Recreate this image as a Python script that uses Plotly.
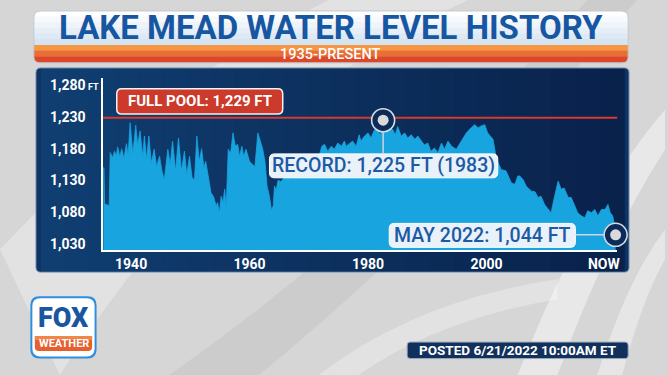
import plotly.graph_objects as go

# ---------------- data ----------------
years = [1935.30, 1935.42, 1935.52, 1936.30, 1936.47, 1936.90, 1937.20, 1937.50, 1937.72, 1938.10,
         1938.40, 1938.80, 1939.20, 1939.50, 1939.83, 1940.30, 1940.78, 1941.10, 1941.50, 1941.95,
         1942.25, 1942.60, 1943.00, 1943.40, 1943.90, 1944.30, 1944.80, 1945.20, 1945.60, 1946.20,
         1946.60, 1947.00, 1947.50, 1948.00, 1948.50, 1949.00, 1949.40, 1949.85, 1950.30, 1950.70,
         1951.10, 1951.50, 1951.90, 1952.30, 1952.60, 1953.00, 1953.50, 1953.90, 1954.35, 1954.60,
         1954.90, 1955.20, 1955.50, 1955.80, 1956.05, 1956.40, 1956.80, 1957.20, 1957.60, 1958.00,
         1958.30, 1958.70, 1959.00, 1959.40, 1960.00, 1960.50, 1960.90, 1961.40, 1961.80, 1962.20,
         1962.60, 1962.95, 1963.35, 1963.70, 1964.00, 1964.20, 1964.50, 1964.80, 1965.30, 1965.80,
         1966.50, 1967.20, 1968.00, 1968.70, 1969.50, 1970.20, 1970.80, 1971.50, 1972.20, 1972.65,
         1973.20, 1973.80, 1974.30, 1974.90, 1975.50, 1976.00, 1976.30, 1976.90, 1977.40, 1978.00,
         1978.50, 1978.80, 1979.40, 1980.00, 1980.50, 1981.10, 1981.70, 1982.10, 1982.55, 1983.00,
         1983.60, 1984.20, 1984.60, 1985.00, 1985.60, 1986.20, 1986.70, 1987.30, 1987.90, 1988.40,
         1989.00, 1989.50, 1990.10, 1990.60, 1991.20, 1991.80, 1992.40, 1992.90, 1993.50, 1994.10,
         1994.90, 1995.70, 1996.60, 1997.40, 1998.00, 1998.60, 1999.10, 1999.70, 2000.20, 2001.10,
         2001.70, 2002.50, 2003.30, 2004.20, 2004.80, 2005.30, 2005.60, 2006.20, 2006.70, 2007.60,
         2008.20, 2008.70, 2009.20, 2009.80, 2010.40, 2010.90, 2011.50, 2012.10, 2012.60, 2013.10,
         2013.80, 2014.30, 2014.90, 2015.40, 2016.00, 2016.60, 2017.10, 2017.70, 2018.30, 2018.80,
         2019.40, 2020.00, 2020.50, 2020.90, 2021.30, 2021.55, 2021.80]
levels = [1150, 1150, 1093, 1090, 1174, 1166, 1176, 1168, 1183, 1167,
          1180, 1165, 1188, 1170, 1221, 1172, 1217, 1185, 1208, 1168,
          1200, 1163, 1200, 1158, 1179, 1152, 1168, 1145, 1131, 1179,
          1155, 1192, 1145, 1197, 1145, 1176, 1139, 1168, 1134, 1131,
          1200, 1160, 1180, 1150, 1160, 1135, 1110, 1105, 1090, 1095,
          1079, 1105, 1095, 1116, 1087, 1179, 1173, 1205, 1184, 1187,
          1168, 1184, 1168, 1179, 1160, 1155, 1152, 1205, 1194, 1180,
          1160, 1121, 1105, 1083, 1090, 1121, 1115, 1130, 1128, 1134,
          1138, 1133, 1145, 1140, 1152, 1148, 1165, 1160, 1184, 1187,
          1176, 1184, 1179, 1189, 1184, 1192, 1184, 1189, 1192, 1184,
          1202, 1192, 1200, 1205, 1197, 1210, 1208, 1202, 1225, 1205,
          1213, 1210, 1202, 1215, 1200, 1205, 1197, 1202, 1195, 1200,
          1192, 1186, 1189, 1176, 1181, 1174, 1189, 1179, 1192, 1184,
          1179, 1192, 1205, 1213, 1218, 1213, 1216, 1218, 1205, 1195,
          1163, 1147, 1145, 1126, 1124, 1137, 1137, 1131, 1121, 1113,
          1112, 1103, 1105, 1092, 1084, 1079, 1105, 1129, 1116, 1118,
          1103, 1103, 1090, 1079, 1074, 1071, 1082, 1079, 1084, 1074,
          1084, 1084, 1092, 1079, 1074, 1063, 1044]

full_pool = 1229
record_year, record_level = 1982.55, 1225
latest_year, latest_level = 2021.80, 1044

y_ticks = [1030, 1080, 1130, 1180, 1230, 1280]
x_ticks = [1940, 1960, 1980, 2000, 2019.8]
x_ticklabels = ["1940", "1960", "1980", "2000", "NOW"]

title_text = "LAKE MEAD WATER LEVEL HISTORY"
subtitle_text = "1935-PRESENT"
full_pool_text = "FULL POOL: 1,229 FT"
record_text = "RECORD: 1,225 FT (1983)"
latest_text = "MAY 2022: 1,044 FT"
posted_text = "POSTED 6/21/2022 10:00AM ET"

# ---------------- helpers ----------------
W, H = 668, 376


def X(p):
    return p / W


def Y(p):
    return 1 - p / H


def rpath(x0, y0, x1, y1, tl=0, tr=0, br=0, bl=0):
    return (f"M {X(x0 + tl)},{Y(y0)} L {X(x1 - tr)},{Y(y0)} Q {X(x1)},{Y(y0)} {X(x1)},{Y(y0 + tr)} "
            f"L {X(x1)},{Y(y1 - br)} Q {X(x1)},{Y(y1)} {X(x1 - br)},{Y(y1)} "
            f"L {X(x0 + bl)},{Y(y1)} Q {X(x0)},{Y(y1)} {X(x0)},{Y(y1 - bl)} "
            f"L {X(x0)},{Y(y0 + tl)} Q {X(x0)},{Y(y0)} {X(x0 + tl)},{Y(y0)} Z")


def lerp(c1, c2, t):
    return "rgb(%d,%d,%d)" % tuple(round(a + (b - a) * t) for a, b in zip(c1, c2))


shapes = []


def add_path(path, fill=None, line=None, lw=0, layer="below", opacity=1):
    shapes.append(dict(type="path", path=path, xref="paper", yref="paper", layer=layer,
                       fillcolor=fill if fill else "rgba(0,0,0,0)", opacity=opacity,
                       line=dict(color=line if line else "rgba(0,0,0,0)", width=lw)))


def swoosh(pts, fill, opacity):
    p = f"M {X(pts[0][0])},{Y(pts[0][1])} "
    p += f"Q {X(pts[1][0])},{Y(pts[1][1])} {X(pts[2][0])},{Y(pts[2][1])} "
    p += f"L {X(pts[3][0])},{Y(pts[3][1])} "
    p += f"Q {X(pts[4][0])},{Y(pts[4][1])} {X(pts[5][0])},{Y(pts[5][1])} Z"
    add_path(p, fill=fill, opacity=opacity)


# ---------------- background swooshes ----------------
swoosh([(0, 250), (150, 90), (330, 0), (470, 0), (230, 110), (60, 376)], "#ffffff", 0.3)
swoosh([(170, 376), (380, 230), (590, 0), (640, 0), (440, 230), (260, 376)], "#a9a9a9", 0.22)
swoosh([(520, 376), (590, 200), (668, 110), (668, 150), (610, 240), (560, 376)], "#ffffff", 0.45)
swoosh([(600, 376), (630, 280), (668, 230), (668, 260), (645, 300), (625, 376)], "#ffffff", 0.4)
swoosh([(320, 376), (420, 300), (560, 280), (560, 300), (440, 320), (360, 376)], "#ffffff", 0.3)

# ---------------- title box ----------------
top_c, mid_c = (255, 255, 255), (213, 228, 241)
n = 6
y0, y1 = 11, 45
for i in range(n):
    a = y0 + (y1 - y0) * i / n
    b = y0 + (y1 - y0) * (i + 1) / n + 0.6
    r = 7 if i == 0 else 0
    add_path(rpath(34, a, 631, b, tl=r, tr=r), fill=lerp(top_c, mid_c, i / (n - 1)))
or1, or2 = (244, 150, 68), (220, 70, 42)
y0, y1 = 45, 63
n = 3
for i in range(n):
    a = y0 + (y1 - y0) * i / n
    b = y0 + (y1 - y0) * (i + 1) / n + (0.6 if i < n - 1 else 0)
    r = 6 if i == n - 1 else 0
    add_path(rpath(34, a, 631, b, br=r, bl=r), fill=lerp(or1, or2, i / (n - 1)))
add_path(rpath(34, 11, 631, 63, 7, 7, 6, 6), line="#c3c9d1", lw=1)

# ---------------- chart panel ----------------
add_path(rpath(36, 68, 632, 273, 5, 5, 5, 5), fill="rgb(13,52,100)")
left_c, right_c = (16, 62, 113), (9, 34, 76)
n = 24
for i in range(n):
    a = 41 + (627 - 41) * i / n
    b = 41 + (627 - 41) * (i + 1) / n + 0.6
    add_path(rpath(a, 68.5, b, 272.5), fill=lerp(left_c, right_c, i / (n - 1)))
add_path(rpath(36, 68, 632, 273, 5, 5, 5, 5), line="#9fb1c7", lw=1)

# full pool line (below traces, above panel)
shapes.append(dict(type="line", xref="x domain", yref="y", x0=0, x1=1, y0=full_pool, y1=full_pool,
                   layer="below", line=dict(color="#d83a2b", width=2)))

# ---------------- label boxes ----------------
add_path(rpath(117.3, 89, 284, 114.3, 5, 5, 5, 5), fill="#cc3a2b", line="#f1f1f1", lw=1.5, layer="above")
add_path(rpath(270.7, 154.3, 500, 178.3, 5, 5, 5, 5), fill="#e9f1f9", line="#ffffff", lw=1, layer="above")
add_path(rpath(391, 224, 578, 248, 5, 5, 5, 5), fill="#e9f1f9", line="#ffffff", lw=1, layer="above")
# connectors
shapes.append(dict(type="line", xref="x", yref="paper", x0=record_year, x1=record_year,
                   y0=Y(132.5), y1=Y(154.3), layer="above", line=dict(color="#cdd5df", width=1.5)))
shapes.append(dict(type="line", xref="paper", yref="y", x0=X(578), x1=X(606.5),
                   y0=latest_level, y1=latest_level, layer="above", line=dict(color="#cdd5df", width=1.5)))

# posted box & logo
add_path(rpath(409, 343, 631, 359.5, 3, 3, 3, 3), fill="#12305c", line="#9aa9bd", lw=1)
add_path(rpath(30.5, 297, 97, 359.5, 9, 9, 9, 9), fill="#2f8fdf")
add_path(rpath(32.5, 299, 95, 357.5, 8, 8, 8, 8), fill="#ffffff")
add_path(rpath(35, 337, 92.5, 352, 0, 0, 4, 4), fill="#e6602f")
add_path(rpath(35, 337, 92.5, 341), fill="#f0864a")

# ---------------- figure ----------------
fig = go.Figure()
fig.add_trace(go.Scatter(x=years, y=levels, mode="lines", fill="tozeroy",
                         line=dict(color="#18a4df", width=0.8), fillcolor="#18a4df",
                         hoverinfo="skip", showlegend=False))
for yr, lv in [(record_year, record_level), (latest_year, latest_level)]:
    fig.add_trace(go.Scatter(x=[yr], y=[lv], mode="markers", showlegend=False, hoverinfo="skip",
                             cliponaxis=False,
                             marker=dict(size=23, color="#0c2b58", line=dict(color="#d5dbe2", width=1.6))))
    fig.add_trace(go.Scatter(x=[yr], y=[lv], mode="markers", showlegend=False, hoverinfo="skip",
                             cliponaxis=False,
                             marker=dict(size=11, color="#dadada", line=dict(width=0))))

ft_span = "<span style='font-size:9px'> FT</span>"
ghost_span = "<span style='font-size:9px;color:rgba(0,0,0,0)'> FT</span>"
y_ticktext = [f"{v:,}" + (ft_span if v == 1280 else ghost_span) for v in y_ticks]

font_b = dict(family="Roboto", weight="bold")

fig.update_layout(
    width=W, height=H, margin=dict(l=0, r=0, t=0, b=0),
    paper_bgcolor="#d6d6d6", plot_bgcolor="rgba(0,0,0,0)",
    showlegend=False, shapes=shapes,
    xaxis=dict(domain=[X(103.5), X(620)], range=[1935.26, 2022.07],
               tickvals=x_ticks, ticktext=x_ticklabels, showgrid=False, zeroline=False,
               showline=True, linecolor="white", linewidth=1.5, ticks="",
               tickfont=dict(size=14, color="white", **font_b), fixedrange=True),
    yaxis=dict(domain=[Y(251), Y(78)], range=[1019.5, 1292],
               tickvals=y_ticks, ticktext=y_ticktext, showgrid=False, zeroline=False,
               showline=True, linecolor="white", linewidth=1.5, ticks="",
               tickfont=dict(size=14, color="white", **font_b), fixedrange=True),
)

ann = [
    dict(text=title_text, x=X(332), y=Y(27.5), font=dict(size=33, color="#1756a2", **font_b)),
    dict(text=subtitle_text, x=X(332), y=Y(54.3), font=dict(size=14.5, color="white", family="Roboto", weight=500)),
    dict(text=full_pool_text, x=X(200.7), y=Y(101.7), font=dict(size=15, color="white", **font_b)),
    dict(text=record_text, x=X(385.3), y=Y(166.3), font=dict(size=19.5, color="#1c5aa6", family="Roboto", weight=500)),
    dict(text=latest_text, x=X(484.5), y=Y(236), font=dict(size=19.5, color="#1c5aa6", family="Roboto", weight=500)),
    dict(text=posted_text, x=X(520), y=Y(351.3), font=dict(size=13.5, color="white", **font_b)),
    dict(text="FOX", x=X(63.8), y=Y(318.5), font=dict(size=27, color="#1a55a0", family="Roboto", weight=900)),
    dict(text="WEATHER", x=X(63.8), y=Y(344.5), font=dict(size=11, color="white", **font_b)),
]
for a in ann:
    a.update(xref="paper", yref="paper", xanchor="center", yanchor="middle", showarrow=False)
fig.update_layout(annotations=ann)

fig.write_html("out.html", config={"displayModeBar": False},
               post_script="document.body.style.margin='0px';")
